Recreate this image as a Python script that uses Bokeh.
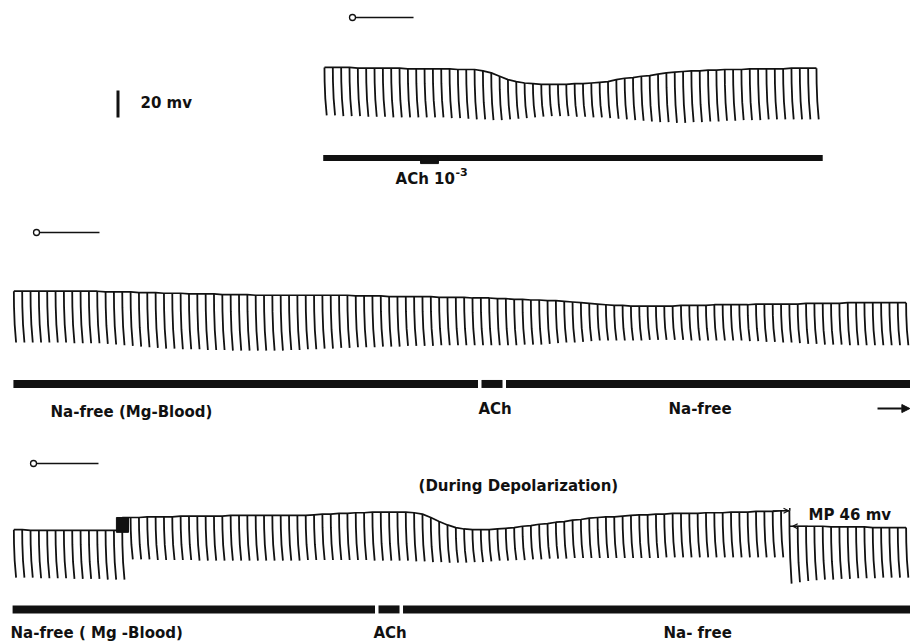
from bokeh.plotting import figure
from bokeh.models import Range1d, Arrow, NormalHead, OpenHead
from bokeh.embed import file_html
from bokeh.resources import INLINE
from bokeh.core.properties import value

# ---------------- DATA (read from the record) ----------------
# potential (mV, relative to each sweep's 0 line) at the top and at the bottom of every beat
top1 = [-37.0, -37.0, -37.0, -37.0, -37.5, -37.5, -37.5, -37.5, -37.5, -37.5,
        -38.0, -38.0, -38.0, -38.0, -38.0, -38.0, -38.5, -38.5, -38.5, -39.5,
        -41.0, -43.5, -46.0, -47.5, -48.5, -49.0, -49.5, -49.5, -49.5, -49.5,
        -49.0, -49.0, -48.5, -48.0, -47.5, -46.0, -45.0, -44.5, -43.5, -43.0,
        -42.0, -41.0, -40.5, -40.0, -39.5, -39.5, -39.0, -39.0, -38.5, -38.5,
        -38.5, -38.0, -38.0, -38.0, -38.0, -38.0, -37.5, -37.5, -37.5, -37.5]
bot1 = [-72.5, -72.5, -73.0, -73.0, -73.0, -73.5, -73.5, -73.5, -74.0, -74.0,
        -74.0, -74.0, -74.0, -74.0, -74.0, -74.5, -74.5, -75.0, -75.5, -75.5,
        -76.0, -76.0, -75.5, -75.0, -74.5, -74.0, -73.5, -73.0, -73.0, -73.0,
        -73.5, -73.5, -74.0, -74.0, -74.5, -75.0, -75.5, -76.0, -76.5, -77.0,
        -77.5, -77.5, -78.0, -78.0, -77.5, -77.5, -77.0, -77.0, -76.5, -76.5,
        -76.0, -76.0, -76.0, -75.5, -75.5, -75.5, -75.5, -75.5, -75.5, -75.5]

top2 = [-43.5, -43.5, -43.5, -43.5, -43.5, -43.5, -43.5, -43.5, -43.5, -43.5,
        -43.5, -44.0, -44.0, -44.0, -44.0, -44.5, -44.5, -44.5, -45.0, -45.0,
        -45.0, -45.5, -45.5, -45.5, -45.5, -46.0, -46.0, -46.0, -46.0, -46.5,
        -46.5, -46.5, -46.5, -46.5, -46.5, -46.5, -46.5, -46.5, -46.5, -46.5,
        -46.5, -47.0, -47.0, -47.0, -47.0, -47.5, -47.5, -47.5, -47.5, -47.5,
        -47.5, -48.0, -48.0, -48.0, -48.0, -48.5, -48.5, -48.5, -49.0, -49.0,
        -49.5, -49.5, -50.0, -50.0, -50.5, -50.5, -51.0, -51.5, -52.0, -52.5,
        -53.0, -53.5, -54.0, -54.0, -54.5, -54.5, -54.5, -54.5, -54.5, -54.5,
        -54.0, -54.0, -54.0, -54.0, -53.5, -53.5, -53.5, -53.5, -53.5, -53.0,
        -53.0, -53.0, -53.0, -53.0, -53.0, -52.5, -52.5, -52.5, -52.5, -52.5,
        -52.0, -52.0, -52.0, -52.0, -52.0, -52.0, -52.0, -52.0]
bot2 = [-81.5, -81.5, -81.5, -81.5, -81.5, -81.5, -81.5, -82.0, -82.0, -82.0,
        -82.0, -82.5, -83.0, -83.5, -84.0, -84.5, -85.0, -85.5, -86.0, -86.0,
        -86.5, -86.5, -86.5, -87.0, -87.0, -87.0, -87.5, -87.5, -87.5, -87.5,
        -87.5, -87.5, -87.5, -87.0, -87.0, -86.5, -86.5, -86.0, -86.0, -85.5,
        -85.5, -85.0, -85.0, -85.0, -84.5, -84.5, -84.5, -84.0, -84.0, -84.0,
        -84.0, -83.5, -83.5, -83.5, -83.5, -83.5, -83.5, -83.5, -83.5, -83.5,
        -83.5, -83.0, -83.0, -83.0, -82.5, -82.0, -81.5, -81.5, -81.0, -80.5,
        -80.0, -80.0, -80.0, -80.0, -80.0, -80.0, -79.5, -79.5, -79.5, -79.5,
        -79.5, -80.0, -80.0, -80.0, -80.0, -80.0, -80.0, -80.0, -80.5, -80.5,
        -81.0, -81.0, -81.5, -81.5, -82.0, -82.5, -82.5, -83.0, -83.0, -83.0,
        -83.5, -83.5, -83.5, -83.5, -83.5, -83.5, -83.5, -83.5]

top3 = [-49.0, -49.0, -49.5, -49.5, -49.5, -49.5, -49.5, -49.5, -49.5, -49.5,
        -49.5, -49.5, -49.5, -49.5,
        -40.0, -40.0, -39.5, -39.5, -39.5, -39.5, -39.0, -39.0, -39.0, -39.0,
        -39.0, -39.0, -38.5, -38.5, -38.5, -38.5, -38.5, -38.5, -38.5, -38.5,
        -38.5, -38.5, -38.0, -37.5, -37.5, -37.0, -37.0, -36.5, -36.5, -36.0,
        -36.0, -36.0, -36.0, -36.0, -36.5, -37.5, -40.0, -43.0, -45.5, -47.5,
        -48.5, -49.0, -49.0, -49.0, -48.5, -48.0, -47.5, -46.5, -46.0, -45.0,
        -44.5, -43.5, -43.0, -42.0, -41.5, -40.5, -40.0, -39.5, -39.5, -39.0,
        -38.5, -38.0, -38.0, -37.5, -37.5, -37.0, -37.0, -37.0, -37.0, -36.5,
        -36.5, -36.5, -36.0, -36.0, -36.0, -35.5, -35.5, -35.5, -35.0, -35.0,
        -46.5, -46.5, -46.5, -46.5, -47.0, -47.0, -47.0, -47.0, -47.0, -47.5,
        -47.5, -47.5, -47.5, -47.5]
bot3 = [-84.5, -84.5, -84.5, -85.0, -85.0, -85.0, -85.0, -85.5, -85.5, -85.5,
        -85.5, -86.0, -86.0, -86.0,
        -71.0, -71.0, -71.0, -71.5, -71.5, -71.5, -71.5, -71.5, -72.0, -72.0,
        -72.0, -72.0, -72.0, -72.0, -72.0, -72.0, -72.0, -72.0, -72.0, -72.0,
        -72.0, -71.5, -71.5, -71.5, -71.5, -71.5, -71.5, -71.5, -71.5, -72.0,
        -72.0, -72.0, -72.0, -72.0, -72.5, -72.5, -73.0, -73.0, -73.5, -73.5,
        -73.5, -73.0, -73.0, -72.5, -72.0, -72.0, -71.5, -71.5, -71.0, -71.0,
        -70.5, -70.5, -70.5, -70.0, -70.0, -70.0, -70.0, -70.0, -70.0, -70.0,
        -70.0, -70.0, -70.0, -70.0, -69.5, -69.5, -69.5, -69.5, -69.5, -69.5,
        -69.5, -69.5, -69.5, -69.5, -69.5, -69.5, -69.5, -69.5, -69.5, -89.0,
        -88.0, -87.0, -86.5, -86.0, -86.0, -85.5, -85.5, -85.0, -85.0, -85.0,
        -84.5, -84.5, -84.5, -84.5]
level_breaks3 = [14, 94]          # beats at which the level of sweep 3 jumps

# perfusion signal bars (beat units) and ACh application marks
bar1 = (37.1, 97.0)
ach1 = (48.77, 50.92)
bar2 = (-0.05, 107.52)
ach2 = (56.08, 58.60)
bar3 = (-0.15, 107.52)
ach3 = (43.73, 46.25)

scale_mv = 20
labels1 = ["ACh 10", "-3"]
labels2 = ["Na-free (Mg-Blood)", "ACh", "Na-free"]
labels3 = ["(During Depolarization)", "Na-free ( Mg -Blood)", "ACh", "Na- free"]
mp_label = "MP 46 mv"
scale_label = "20 mv"

# ---------------- LAYOUT ----------------
PXB = 8.339            # px per beat
PXM = 1.35             # px per mV
W, H = 910, 643
XS = -1.6
p = figure(width=W, height=H, x_range=Range1d(XS, XS + W / PXB),
           y_range=Range1d(-H / PXM, 0), output_backend="svg",
           toolbar_location=None, min_border=0,
           x_axis_location=None, y_axis_location=None)
p.grid.visible = False
p.outline_line_color = None
p.background_fill_color = "white"
p.border_fill_color = "white"

INK = "#111111"
FONT = value("DejaVu Sans")
zero = [-12.6, -171.85, -342.96]      # vertical position of each sweep's 0 line
xoff = [37.25, 0.0, 0.0]              # beat offset of each sweep
BEND = [(0.0, 0.0), (0.3, 0.02), (0.65, 0.1), (1.0, 0.27)]


def sweep(k, tops, bots, breaks=()):
    z, x0 = zero[k], xoff[k]
    xs, ys = [], []
    for i, (t, b) in enumerate(zip(tops, bots)):
        xs.append([x0 + i + dx for f, dx in BEND])
        ys.append([z + t + f * (b - t) for f, dx in BEND])
    p.multi_line(xs, ys, line_color=INK, line_width=1.8)
    starts = [0] + list(breaks)
    ends = list(breaks) + [len(tops)]
    for s, e in zip(starts, ends):
        lx = [x0 + i for i in range(s, e)]
        ly = [z + tops[i] for i in range(s, e)]
        if s > 0:
            lx = [x0 + s - 1] + lx
            ly = [z + tops[s]] + ly
        p.line(lx, ly, line_color=INK, line_width=1.7)


sweep(0, top1, bot1)
sweep(1, top2, bot2)
sweep(2, top3, bot3, level_breaks3)

# thick tracing mark where sweep 3 jumps
i0 = level_breaks3[0]
p.quad(left=[i0 - 1 - 0.7], right=[i0 - 0.25],
       top=[zero[2] + top3[i0]], bottom=[zero[2] + top3[i0 - 1] - 1.5],
       fill_color=INK, line_color=INK)

# zero-potential markers  o-----
zx = [40.61, 2.72, 2.36]
zl = [(40.97, 47.93), (3.08, 10.27), (2.72, 10.15)]
for k in range(3):
    p.segment(x0=[zl[k][0]], y0=[zero[k]], x1=[zl[k][1]], y1=[zero[k]],
              line_color=INK, line_width=1.3)
p.scatter(x=zx, y=zero, marker="circle", size=6, fill_color="white",
          line_color=INK, line_width=1.3)

# signal bars
GAP = 0.42
p.segment(x0=[bar1[0]], y0=[zero[0] - 104.1], x1=[bar1[1]], y1=[zero[0] - 104.1],
          line_color=INK, line_width=6, line_cap="butt")
p.quad(left=[ach1[0]], right=[ach1[1]], top=[zero[0] - 103.0],
       bottom=[zero[0] - 108.2], fill_color=INK, line_color=INK)
for k, bar, ach, yb in [(1, bar2, ach2, -112.2), (2, bar3, ach3, -108.1)]:
    segs = [(bar[0], ach[0] - GAP), (ach[0], ach[1]), (ach[1] + GAP, bar[1])]
    p.segment(x0=[s[0] for s in segs], y0=[zero[k] + yb] * 3,
              x1=[s[1] for s in segs], y1=[zero[k] + yb] * 3,
              line_color=INK, line_width=8, line_cap="butt")

# scale bar
p.segment(x0=[12.49], y0=[zero[0] - 54.0], x1=[12.49], y1=[zero[0] - 54.0 - scale_mv],
          line_color=INK, line_width=3, line_cap="butt")


def label(x, y, s, size="15px"):
    p.text(x=[x], y=[y], text=[s], text_font=FONT, text_font_size=size,
           text_font_style="bold", text_color=INK, text_align="left",
           text_baseline="middle")


label(15.19, zero[0] - 63.0, scale_label)
label(45.77, zero[0] - 119.3, labels1[0])
label(52.95, zero[0] - 114.8, labels1[1], size="11px")
label(4.40, zero[1] - 132.6, labels2[0])
label(55.72, zero[1] - 130.4, labels2[1])
label(78.50, zero[1] - 130.4, labels2[2])
label(48.53, zero[2] - 17.0, labels3[0])
label(-0.40, zero[2] - 125.9, labels3[1])
label(43.13, zero[2] - 125.9, labels3[2])
label(77.90, zero[2] - 125.9, labels3[3])
label(95.29, zero[2] - 38.5, mp_label)

# "continues" arrow of sweep 2
p.add_layout(Arrow(end=NormalHead(size=8, fill_color=INK, line_color=INK),
                   x_start=103.57, y_start=zero[1] - 130.4,
                   x_end=107.45, y_end=zero[1] - 130.4,
                   line_color=INK, line_width=2))

# step markers at the MP jump of sweep 3
j = level_breaks3[1] - 1
p.add_layout(Arrow(end=OpenHead(size=5, line_color=INK, line_width=1.2),
                   x_start=j - 2.0, y_start=zero[2] + top3[j],
                   x_end=j - 0.1, y_end=zero[2] + top3[j],
                   line_color=INK, line_width=1))
p.add_layout(Arrow(end=OpenHead(size=5, line_color=INK, line_width=1.2),
                   x_start=j + 2.2, y_start=zero[2] + top3[j + 1],
                   x_end=j + 0.4, y_end=zero[2] + top3[j + 1],
                   line_color=INK, line_width=1))
p.segment(x0=[j + 0.05], y0=[zero[2] + top3[j] + 2.0], x1=[j + 0.05],
          y1=[zero[2] + top3[j]], line_color=INK, line_width=1.5)

open("out.html", "w").write(file_html(p, INLINE))
